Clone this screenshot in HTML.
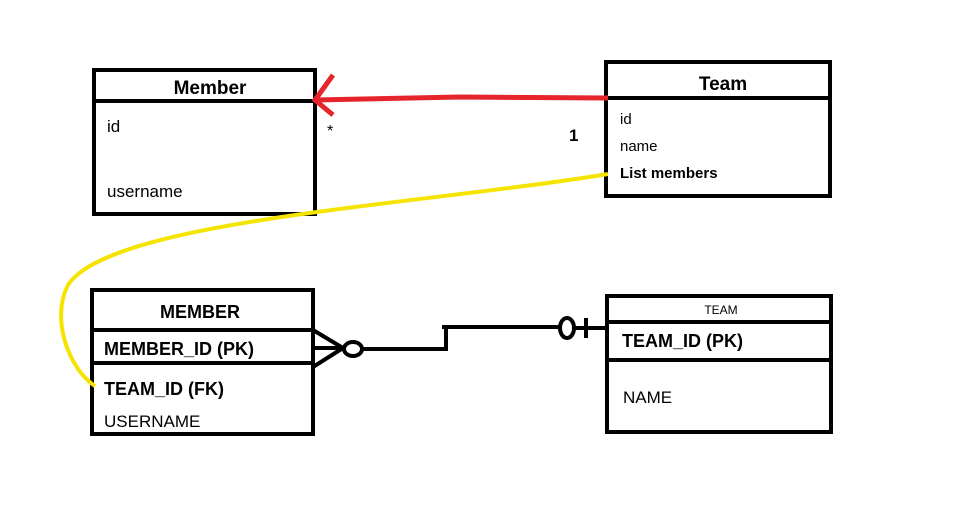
<!DOCTYPE html>
<html><head><style>
body{margin:0;width:966px;height:510px;background:#fff;overflow:hidden}
text{font-family:"Liberation Sans","DejaVu Sans",sans-serif}
</style></head><body>
<svg width="966" height="510" xmlns="http://www.w3.org/2000/svg">
<g fill="none" stroke="#000" stroke-width="4">
<rect x="94" y="70" width="221" height="144"/><line x1="94" y1="101" x2="315" y2="101"/>
<rect x="606" y="62" width="224" height="134"/><line x1="606" y1="98" x2="830" y2="98"/>
<rect x="92" y="290" width="221" height="144"/><line x1="92" y1="330" x2="313" y2="330"/><line x1="92" y1="363" x2="313" y2="363"/>
<rect x="607" y="296" width="224" height="136"/><line x1="607" y1="322" x2="831" y2="322"/><line x1="607" y1="360" x2="831" y2="360"/>
<path d="M313,330 L343,348 M313,348 L344,348 M313,367 L343,348"/>
<ellipse cx="353" cy="349" rx="9" ry="7"/>
<path d="M362,349 L446,349 L446,327 L442,327 M442,327 L560,327"/>
<ellipse cx="567" cy="328" rx="7" ry="10"/>
<path d="M586,318 L586,338 M574,328 L607,328"/>
</g>
<g stroke="#e5242c" stroke-width="5" fill="none">
<path d="M608,98 L460,97 L315,100"/>
<path d="M333,75 L315,100 L333,115"/>
</g>
<path d="M608,174 C 420,205 110,220 68,285 C 50,320 70,370 95,386" stroke="#f5e400" stroke-width="4" fill="none"/>
<g font-size="17">
<text x="210" y="94" text-anchor="middle" font-weight="bold" font-size="19">Member</text>
<text x="107" y="132">id</text>
<text x="107" y="197">username</text>
<text x="723" y="90" text-anchor="middle" font-weight="bold" font-size="19">Team</text>
<text x="620" y="124" font-size="15">id</text>
<text x="620" y="151" font-size="15">name</text>
<text x="620" y="178" font-size="15" font-weight="bold">List members</text>
<text x="327" y="136" font-size="16">*</text>
<text x="569" y="141" font-size="17" font-weight="bold">1</text>
<text x="200" y="318" text-anchor="middle" font-weight="bold" font-size="18">MEMBER</text>
<text x="104" y="355" font-weight="bold" font-size="18">MEMBER_ID (PK)</text>
<text x="104" y="395" font-weight="bold" font-size="18">TEAM_ID (FK)</text>
<text x="104" y="427">USERNAME</text>
<text x="721" y="314" text-anchor="middle" font-size="12">TEAM</text>
<text x="622" y="347" font-weight="bold" font-size="18">TEAM_ID (PK)</text>
<text x="623" y="403">NAME</text>
</g>
</svg>
</body></html>
